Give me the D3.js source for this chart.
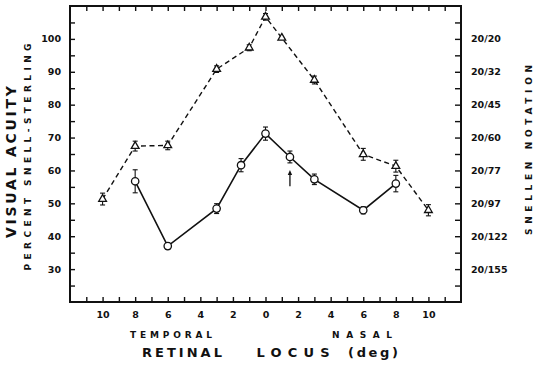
<!DOCTYPE html>
<html>
<head>
<meta charset="utf-8">
<script src="https://cdn.jsdelivr.net/npm/d3@7"></script>
<style>
  body { margin: 0; background: #fff; }
  svg { display: block; }
  text { font-family: "DejaVu Sans", sans-serif; font-weight: bold; fill: #111; }
  .axis text { font-size: 9.5px; }
  .axis line { stroke: #111; stroke-width: 1.4; }
  .axis path { display: none; }
</style>
</head>
<body>
<div id="container"></div>
<script>
// retinal locus, temporal negative / nasal positive (deg)
var xTickValues = [-10, -8, -6, -4, -2, 0, 2, 4, 6, 8, 10];

// dashed series (triangles)
var triX   = [-10, -8, -6, -3, -1, 0, 1, 3, 6, 8, 10];
var triY   = [51.3, 67.4, 67.6, 90.8, 97.3, 106.7, 100.3, 87.5, 64.9, 61.3, 47.9];
var triErr = [1.8, 1.5, 1.3, 1.0, 0.9, 1.0, 0, 1.2, 1.8, 1.8, 1.7];

// solid series (circles)
var circX   = [-8, -6, -3, -1.5, 0, 1.5, 3, 6, 8];
var circY   = [56.7, 37.0, 48.4, 61.6, 71.2, 64.1, 57.3, 47.9, 56.0];
var circErr = [3.5, 1.0, 1.5, 2.0, 2.0, 1.8, 1.6, 1.1, 2.5];

// axis labels
var leftLabels = [30, 40, 50, 60, 70, 80, 90, 100];
var snellenLabels = ["20/155", "20/122", "20/97", "20/77", "20/60", "20/45", "20/32", "20/20"];

// arrow marker at 1.5 deg
var arrowX = 1.5, arrowTip = 60.1, arrowTail = 55.2;

function chart(){
	var window_w = 535, window_h = 376;
	var margin = {top: 6, right: 74, bottom: 74, left: 70},
		width = window_w - (margin.left + margin.right),
		height = window_h - (margin.top + margin.bottom);

	var svg = d3.select("#container")
		.append("svg")
		.attr("width", window_w)
		.attr("height", window_h);

	var plot = svg.append("g")
		.attr("transform", "translate(" + margin.left + "," + margin.top + ")");

	var x = d3.scaleLinear().domain([-12, 12]).range([0, width]);
	var y = d3.scaleLinear().domain([20, 110]).range([height, 0]);

	var minorY = d3.range(25, 106, 5);
	var minorX = d3.range(-11, 12, 1);

	// axes, ticks pointing inward
	plot.append("g")
		.attr("class", "axis")
		.call(d3.axisLeft(y).tickValues(minorY).tickSize(-5).tickPadding(9)
			.tickFormat(function(d) { return leftLabels.indexOf(d) >= 0 ? d : ""; }));

	plot.append("g")
		.attr("class", "axis")
		.attr("transform", "translate(" + width + ",0)")
		.call(d3.axisRight(y).tickValues(minorY).tickSize(-6).tickPadding(10)
			.tickFormat(function(d) {
				var i = leftLabels.indexOf(d);
				return i >= 0 ? snellenLabels[i] : "";
			}));

	plot.append("g")
		.attr("class", "axis")
		.attr("transform", "translate(0," + height + ")")
		.call(d3.axisBottom(x).tickValues(minorX).tickSize(-5).tickPadding(9)
			.tickFormat(function(d) { return xTickValues.indexOf(d) >= 0 ? Math.abs(d) : ""; }));

	plot.append("g")
		.attr("class", "axis")
		.call(d3.axisTop(x).tickValues(minorX).tickSize(-5).tickFormat(""));

	plot.append("rect")
		.attr("width", width)
		.attr("height", height)
		.attr("fill", "none")
		.attr("stroke", "#111")
		.attr("stroke-width", 2);

	var tri = triX.map(function(d, i) { return {x: d, y: triY[i], e: triErr[i]}; });
	var circ = circX.map(function(d, i) { return {x: d, y: circY[i], e: circErr[i]}; });

	var line = d3.line()
		.x(function(d) { return x(d.x); })
		.y(function(d) { return y(d.y); });

	plot.append("path")
		.datum(tri)
		.attr("d", line)
		.attr("fill", "none")
		.attr("stroke", "#111")
		.attr("stroke-width", 1.4)
		.attr("stroke-dasharray", "5,3.5");

	plot.append("path")
		.datum(circ)
		.attr("d", line)
		.attr("fill", "none")
		.attr("stroke", "#111")
		.attr("stroke-width", 1.6);

	// error bars
	function errorBars(data){
		var g = plot.append("g").selectAll("g")
			.data(data.filter(function(d) { return d.e > 0; }))
			.enter().append("g")
			.attr("stroke", "#111")
			.attr("stroke-width", 1.1);
		g.append("line")
			.attr("x1", function(d) { return x(d.x); })
			.attr("x2", function(d) { return x(d.x); })
			.attr("y1", function(d) { return y(d.y + d.e); })
			.attr("y2", function(d) { return y(d.y - d.e); });
		[1, -1].forEach(function(s){
			g.append("line")
				.attr("x1", function(d) { return x(d.x) - 2.5; })
				.attr("x2", function(d) { return x(d.x) + 2.5; })
				.attr("y1", function(d) { return y(d.y + s * d.e); })
				.attr("y2", function(d) { return y(d.y + s * d.e); });
		});
	}
	errorBars(tri);
	errorBars(circ);

	plot.append("g").selectAll("path")
		.data(tri)
		.enter().append("path")
		.attr("d", d3.symbol().type(d3.symbolTriangle).size(26))
		.attr("transform", function(d) { return "translate(" + x(d.x) + "," + y(d.y) + ")"; })
		.attr("fill", "#fff")
		.attr("stroke", "#111")
		.attr("stroke-width", 1.3);

	plot.append("g").selectAll("circle")
		.data(circ)
		.enter().append("circle")
		.attr("cx", function(d) { return x(d.x); })
		.attr("cy", function(d) { return y(d.y); })
		.attr("r", 3.7)
		.attr("fill", "#fff")
		.attr("stroke", "#111")
		.attr("stroke-width", 1.3);

	// arrow
	plot.append("line")
		.attr("x1", x(arrowX)).attr("x2", x(arrowX))
		.attr("y1", y(arrowTail)).attr("y2", y(arrowTip) + 4)
		.attr("stroke", "#111").attr("stroke-width", 1.3);
	plot.append("path")
		.attr("d", "M" + x(arrowX) + "," + y(arrowTip) + "l-2.2,5h4.4z")
		.attr("fill", "#111");

	// titles
	function label(txt, tx, ty, size, len, rot){
		svg.append("text")
			.attr("transform", "translate(" + tx + "," + ty + ")" + (rot ? " rotate(-90)" : ""))
			.attr("text-anchor", "middle")
			.attr("dy", "0.36em")
			.attr("font-size", size)
			.attr("textLength", len)
			.attr("lengthAdjust", "spacing")
			.text(txt);
	}
	label("TEMPORAL", 171, 335, 9, 82, false);
	label("NASAL", 362, 335, 9, 60, false);
	label("RETINAL", 182, 352, 13, 80, false);
	label("LOCUS", 293, 352, 13, 73, false);
	label("(deg)", 373, 352, 13, 50, false);
	label("VISUAL ACUITY", 11, 162, 14, 152, true);
	label("PERCENT SNELL-STERLING", 28, 157, 9, 227, true);
	label("SNELLEN NOTATION", 529, 150, 9, 170, true);
}

chart();
</script>
</body>
</html>
